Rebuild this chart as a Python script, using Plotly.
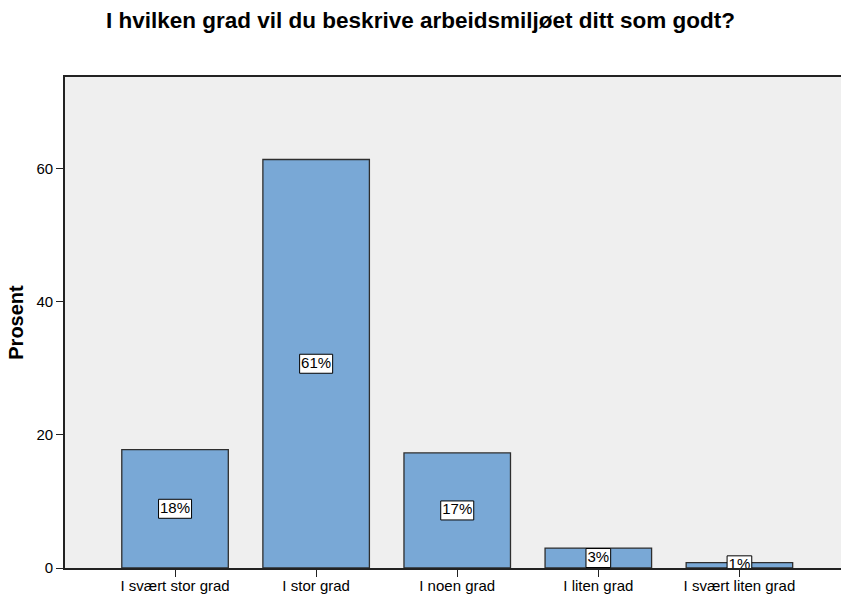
import plotly.graph_objects as go

# Survey answers and percentage of respondents
categories = ["I svært stor grad", "I stor grad", "I noen grad", "I liten grad", "I svært liten grad"]
percent = [17.8, 61.4, 17.3, 3.0, 0.8]
y_ticks = [0, 20, 40, 60]

title_text = "I hvilken grad vil du beskrive arbeidsmiljøet ditt som godt?"
y_title = "Prosent"

FONT = "Liberation Sans, Arial, sans-serif"
BAR_COLOR = "#79A8D6"
Y_MAX = 73.8
PLOT_H = 597 - 77 - 29
PLOT_W = 841 - 65
X_RANGE = [-0.78, 4.72]

px_per_y = PLOT_H / Y_MAX
px_per_x = PLOT_W / (X_RANGE[1] - X_RANGE[0])

labels = [f"{round(v)}%" for v in percent]
x_pos = list(range(len(categories)))


def text_width(s, size=15):
    # rough Arial advance widths
    return sum(0.556 * size if ch.isdigit() else 0.889 * size for ch in s)


# label boxes: white rectangles centred on half the bar height (clipped by the plot area)
box_h = 19 / px_per_y
box_w = [(text_width(s) + 3) / px_per_x for s in labels]
box_base = [v / 2 - box_h / 2 for v in percent]

fig = go.Figure()
fig.add_trace(go.Bar(
    x=x_pos, y=percent, width=0.755,
    marker=dict(color=BAR_COLOR, line=dict(color="#2e2e2e", width=1.3)),
    hoverinfo="skip",
))
fig.add_trace(go.Bar(
    x=x_pos, y=[box_h] * len(percent), base=box_base, width=box_w,
    marker=dict(color="white", line=dict(color="black", width=1)),
    hoverinfo="skip",
))
fig.add_trace(go.Scatter(
    x=x_pos, y=[v / 2 for v in percent], mode="text", text=labels,
    textposition="middle center", cliponaxis=True,
    textfont=dict(family=FONT, size=15, color="black"),
    hoverinfo="skip",
))

fig.update_layout(
    width=841, height=597,
    margin=dict(l=65, r=0, t=77, b=29),
    paper_bgcolor="white",
    plot_bgcolor="#EFEFEF",
    showlegend=False,
    barmode="overlay",
    title=dict(text=f"<b>{title_text}</b>", x=0.5, xanchor="center", y=0.966, yanchor="middle",
               font=dict(family=FONT, size=22.5, color="black")),
    font=dict(family=FONT, size=15, color="black"),
)

fig.update_xaxes(
    range=X_RANGE,
    tickmode="array", tickvals=x_pos, ticktext=categories,
    ticks="outside", ticklen=7, tickcolor="#222", tickwidth=1.3,
    ticklabelstandoff=-4,
    showline=True, linecolor="#222", linewidth=1.6, mirror=True,
    showgrid=False, zeroline=False,
    tickfont=dict(family=FONT, size=15, color="black"),
)
fig.update_yaxes(
    range=[0, Y_MAX],
    tickmode="array", tickvals=y_ticks,
    ticks="outside", ticklen=7, tickcolor="#222", tickwidth=1.3,
    showline=True, linecolor="#222", linewidth=1.6,
    showgrid=False, zeroline=False,
    tickfont=dict(family=FONT, size=15, color="black"),
    title=dict(text=f"<b>{y_title}</b>", font=dict(family=FONT, size=20, color="black"), standoff=8),
)

fig.write_html("out.html")
